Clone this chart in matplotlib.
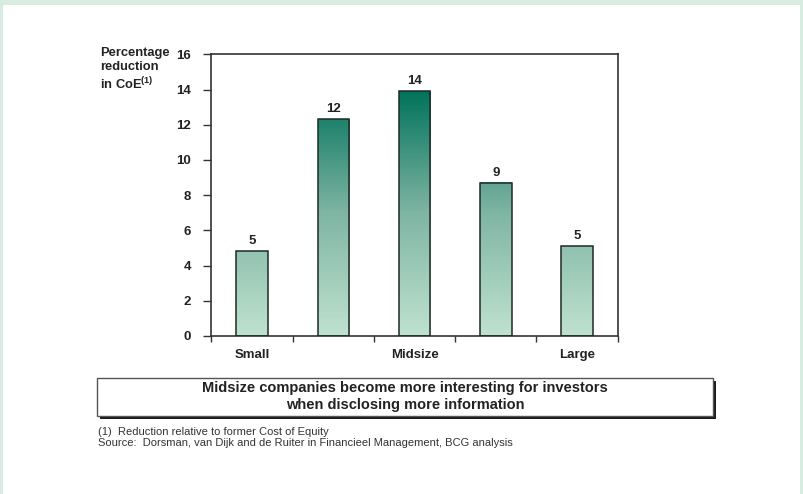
import numpy as np
import matplotlib
matplotlib.use("Agg")
import matplotlib.pyplot as plt
from matplotlib.colors import LinearSegmentedColormap, Normalize
from matplotlib.patches import Rectangle

plt.rcParams['font.family'] = ['Liberation Sans', 'DejaVu Sans']
plt.rcParams['mathtext.fontset'] = 'custom'
plt.rcParams['mathtext.bf'] = 'Liberation Sans:bold'
plt.rcParams['mathtext.rm'] = 'Liberation Sans'

# Data
categories = ["Small", "", "Midsize", "", "Large"]
reduction = [4.8, 12.3, 13.9, 8.7, 5.1]
y_ticks = [0, 2, 4, 6, 8, 10, 12, 14, 16]

W, H = 804, 494
fig = plt.figure(figsize=(W / 100, H / 100), dpi=100)
fig.patch.set_facecolor("white")

# light green frame around the page
frame_col = "#d9ece2"
fig.patches.append(Rectangle((0, 1 - 5 / H), 1, 5 / H, transform=fig.transFigure,
                             facecolor=frame_col, edgecolor="none", zorder=0))
fig.patches.append(Rectangle((0, 0), 3.5 / W, 1, transform=fig.transFigure,
                             facecolor=frame_col, edgecolor="none", zorder=0))
fig.patches.append(Rectangle((1 - 3.5 / W, 0), 3.5 / W, 1, transform=fig.transFigure,
                             facecolor=frame_col, edgecolor="none", zorder=0))

ax = fig.add_axes([211.5 / W, 1 - 336 / H, (617.7 - 211.5) / W, (336 - 54.3) / H])
ax.set_xlim(-0.5, len(reduction) - 0.5)
ax.set_ylim(0, 16)

cmap = LinearSegmentedColormap.from_list("greens", ["#bfe2cf", "#7fb5a3", "#00725a"])
norm = Normalize(vmin=0, vmax=14)
bar_w = 0.39
for i, v in enumerate(reduction):
    x0, x1 = i - bar_w / 2, i + bar_w / 2
    grad = np.linspace(0, v, 200).reshape(-1, 1)
    ax.imshow(grad, extent=(x0, x1, 0, v), origin="lower", aspect="auto",
              cmap=cmap, norm=norm, zorder=2, interpolation="bilinear")
    ax.add_patch(Rectangle((x0, 0), bar_w, v, facecolor="none",
                           edgecolor="#1e2a26", linewidth=1.1, zorder=3))
    ax.annotate(f"{v:.0f}", (i, v), xytext=(0, 3), textcoords="offset points",
                ha="center", va="bottom", fontsize=9.5, fontweight="bold", color="#222222")
ax.set_xlim(-0.5, len(reduction) - 0.5)
ax.set_ylim(0, 16)

for s in ax.spines.values():
    s.set_color("#333333")
    s.set_linewidth(1.2)

ax.set_yticks(y_ticks)
ax.set_yticklabels([str(t) for t in y_ticks], fontsize=9.5, fontweight="bold", color="#222222")
ax.tick_params(axis="y", direction="out", length=5.5, width=1, color="#333333", pad=9)

ax.set_xticks(np.arange(-0.5, len(reduction), 1.0))
ax.set_xticklabels([])
ax.tick_params(axis="x", which="major", direction="out", length=4, width=1, color="#333333")
ax.set_xticks(range(len(reduction)), minor=True)
ax.set_xticklabels(categories, minor=True, fontsize=9.5, fontweight="bold", color="#222222")
ax.tick_params(axis="x", which="minor", length=0, pad=16)
for lbl in ax.get_xticklabels(minor=True):
    lbl.set_verticalalignment("baseline")

fig.text(100 / W, 1 - 47 / H, "Percentage\nreduction\n" + r"in CoE$^{\mathbf{(1)}}$",
         ha="left", va="top", fontsize=9.3, fontweight="bold", color="#222222",
         linespacing=1.2)

# takeaway box with drop shadow
bx0, bx1, by0, by1 = 97.5, 712.5, 377.5, 415.5
fig.patches.append(Rectangle(((bx0 + 3) / W, 1 - (by1 + 3) / H), (bx1 - bx0) / W, (by1 - by0) / H,
                             transform=fig.transFigure, facecolor="#1a1a1a", edgecolor="none", zorder=1))
fig.patches.append(Rectangle((bx0 / W, 1 - by1 / H), (bx1 - bx0) / W, (by1 - by0) / H,
                             transform=fig.transFigure, facecolor="white", edgecolor="#555555",
                             linewidth=1.0, zorder=2))
fig.text(405 / W, 1 - 396.5 / H,
         "Midsize companies become more interesting for investors\nwhen disclosing more information",
         ha="center", va="center", fontsize=10.5, fontweight="bold", color="#222222",
         linespacing=1.2, zorder=3)

fig.text(98 / W, 1 - 432 / H, "(1)  Reduction relative to former Cost of Equity",
         ha="left", va="center", fontsize=8, color="#333333")
fig.text(98 / W, 1 - 443 / H,
         "Source:  Dorsman, van Dijk and de Ruiter in Financieel Management, BCG analysis",
         ha="left", va="center", fontsize=8, color="#333333")

fig.savefig("out.png", dpi=100)
